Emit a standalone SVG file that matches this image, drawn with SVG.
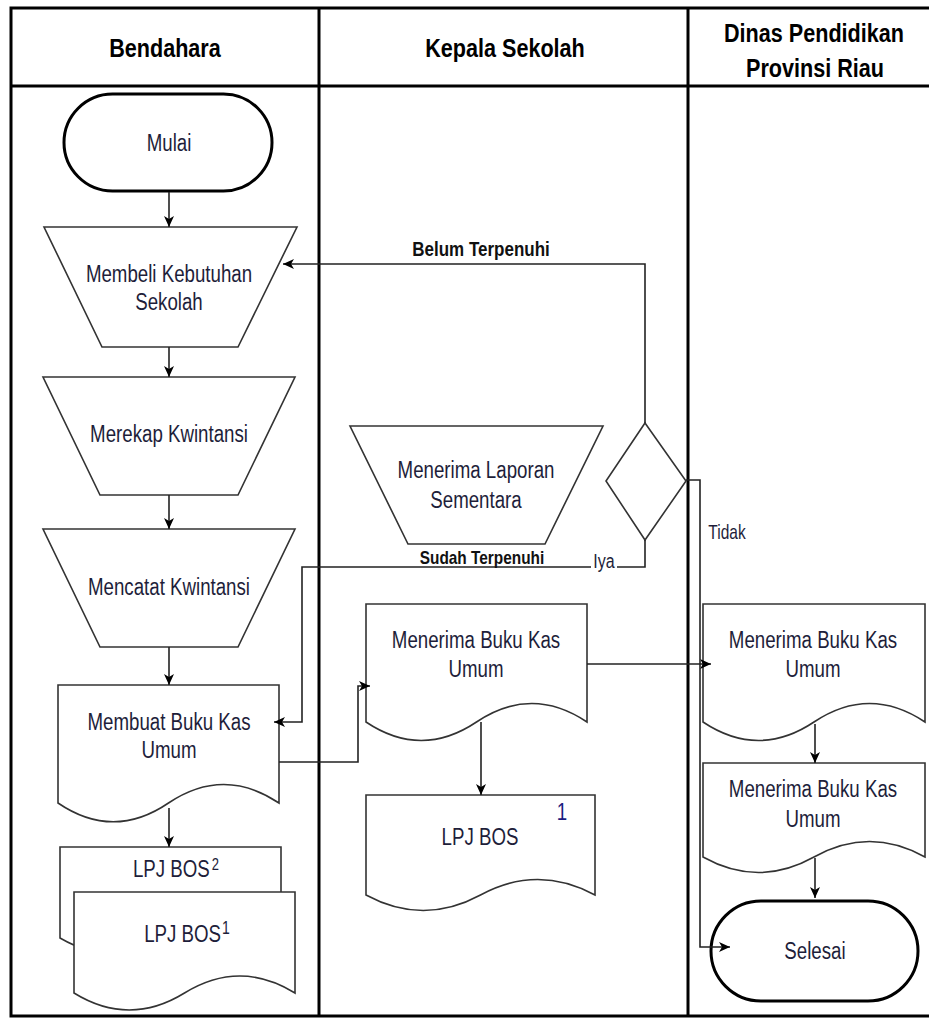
<svg xmlns="http://www.w3.org/2000/svg" width="929" height="1019" viewBox="0 0 929 1019">
<style>
.lane{stroke:#000;stroke-width:3;fill:none}
.sh{fill:#fff;stroke:#333;stroke-width:1.6}
.term{fill:#fff;stroke:#000;stroke-width:3}
.c{fill:none;stroke:#222;stroke-width:1.6}
.t{font-family:"Liberation Sans",Arial,sans-serif;font-size:18.7px;fill:#1e1e3a;text-anchor:middle}
.h{font-family:"Liberation Sans",Arial,sans-serif;font-size:21.6px;font-weight:bold;fill:#000;text-anchor:middle}
.lb{font-family:"Liberation Sans",Arial,sans-serif;font-weight:bold;fill:#111;text-anchor:middle}
</style>
<defs>
<marker id="arr" markerUnits="userSpaceOnUse" markerWidth="12" markerHeight="10" refX="11" refY="5" orient="auto">
<path d="M0,0 L11,5 L0,10 L3,5 z" fill="#000"/>
</marker>
</defs>
<rect width="929" height="1019" fill="#fff"/>
<g id="lanes">
<path class="lane" d="M929,8 H11 V1016 H929"/>
<path class="lane" d="M11,86 H929"/>
<path class="lane" d="M319,8 V1016"/>
<path class="lane" d="M688,8 V1016"/>
<text class="h" transform="translate(165,57) scale(1,1.2)">Bendahara</text>
<text class="h" transform="translate(505,57) scale(1,1.2)">Kepala Sekolah</text>
<text class="h" transform="translate(814,42) scale(1,1.2)">Dinas Pendidikan</text>
<text class="h" transform="translate(815,77) scale(1,1.2)">Provinsi Riau</text>
</g>
<g id="mulai">
<rect class="term" x="64" y="94" width="208" height="97" rx="48.5"/>
<text class="t" transform="translate(169,151) scale(1,1.27)">Mulai</text>
</g>
<g id="membeli">
<path class="sh" d="M44,227 H297 L238,347 H102 Z"/>
<text class="t" transform="translate(169,282) scale(1,1.27)">Membeli Kebutuhan</text>
<text class="t" transform="translate(169,310) scale(1,1.27)">Sekolah</text>
</g>
<g id="merekap">
<path class="sh" d="M43,377 H295 L238,495 H100 Z"/>
<text class="t" transform="translate(169,442) scale(1,1.27)">Merekap Kwintansi</text>
</g>
<g id="mencatat">
<path class="sh" d="M43,529 H295 L238,647 H100 Z"/>
<text class="t" transform="translate(169,595) scale(1,1.27)">Mencatat Kwintansi</text>
</g>
<g id="membuat">
<path class="sh" d="M58,685 H279 V803 Q223.75,766 168.5,803 Q113.25,840.6 58,803 Z"/>
<text class="t" transform="translate(169,730) scale(1,1.27)">Membuat Buku Kas</text>
<text class="t" transform="translate(169,758) scale(1,1.27)">Umum</text>
</g>
<g id="lpjbos2">
<path class="sh" d="M60,847 H281 V938 Q225.75,906 170.5,938 Q115.25,970 60,938 Z"/>
<text class="t" transform="translate(176,877) scale(1,1.27)">LPJ BOS<tspan style="font-size:13px" dx="2" dy="-5.5">2</tspan></text>
</g>
<g id="lpjbos1">
<path class="sh" d="M74,892 H295 V993 Q239.75,959 184.5,993 Q129.25,1027 74,993 Z"/>
<text class="t" transform="translate(187,942) scale(1,1.27)">LPJ BOS<tspan style="font-size:14px" dx="1" dy="-6">1</tspan></text>
</g>
<g id="menerima-laporan">
<path class="sh" d="M350,426 H603 L545,544 H408 Z"/>
<text class="t" transform="translate(476,478) scale(1,1.27)">Menerima Laporan</text>
<text class="t" transform="translate(476,508) scale(1,1.27)">Sementara</text>
</g>
<g id="keputusan">
<path class="sh" d="M645,423 L686,481 L645,540 L606,481 Z"/>
</g>
<g id="menerima-bku-kepala">
<path class="sh" d="M366,604 H587 V722 Q531.75,685 476.5,722 Q421.25,759 366,722 Z"/>
<text class="t" transform="translate(476,648) scale(1,1.27)">Menerima Buku Kas</text>
<text class="t" transform="translate(476,677) scale(1,1.27)">Umum</text>
</g>
<g id="lpjbos-kepala">
<path class="sh" d="M366,795 H595 V895 Q537.75,864 480.5,895 Q423.25,926 366,895 Z"/>
<text class="t" transform="translate(480,845) scale(1,1.27)">LPJ BOS</text>
<text class="t" style="fill:#1a1a80" transform="translate(562,820) scale(1,1.27)">1</text>
</g>
<g id="menerima-bku-dinas-1">
<path class="sh" d="M703,604 H925 V722 Q869.5,685 814,722 Q758.5,759 703,722 Z"/>
<text class="t" transform="translate(813,648) scale(1,1.27)">Menerima Buku Kas</text>
<text class="t" transform="translate(813,677) scale(1,1.27)">Umum</text>
</g>
<g id="menerima-bku-dinas-2">
<path class="sh" d="M703,763 H925 V857 Q869.5,826 814,857 Q758.5,888 703,857 Z"/>
<text class="t" transform="translate(813,797) scale(1,1.27)">Menerima Buku Kas</text>
<text class="t" transform="translate(813,827) scale(1,1.27)">Umum</text>
</g>
<g id="selesai">
<rect class="term" x="711" y="901" width="207" height="100" rx="50"/>
<text class="t" transform="translate(815,959) scale(1,1.27)">Selesai</text>
</g>
<g id="connectors">
<path class="c" marker-end="url(#arr)" d="M169,192 V227"/>
<path class="c" marker-end="url(#arr)" d="M169,347 V377"/>
<path class="c" marker-end="url(#arr)" d="M169,495 V529"/>
<path class="c" marker-end="url(#arr)" d="M169,647 V685"/>
<path class="c" marker-end="url(#arr)" d="M169,808 V847"/>
<path class="c" marker-end="url(#arr)" d="M279,762 H358 V686 H370"/>
<path class="c" marker-end="url(#arr)" d="M481,722 V795"/>
<path class="c" marker-end="url(#arr)" d="M587,664 H711"/>
<path class="c" marker-end="url(#arr)" d="M815,724 V763"/>
<path class="c" marker-end="url(#arr)" d="M815,858 V898"/>
<path class="c" marker-end="url(#arr)" d="M645,423 V264 H283"/>
<path class="c" marker-end="url(#arr)" d="M645,540 V567 H302 V722 H274"/>
<path class="c" marker-end="url(#arr)" d="M686,480 H700 V947 H730"/>
<text class="lb" font-size="17px" transform="translate(481,256) scale(1,1.2)">Belum Terpenuhi</text>
<text class="lb" font-size="15.4px" transform="translate(482,564) scale(1,1.2)">Sudah Terpenuhi</text>
<rect x="591" y="556" width="26" height="16" fill="#fff"/>
<text class="t" style="font-size:16px" transform="translate(604,568) scale(1,1.27)">Iya</text>
<text class="t" style="font-size:15.5px" transform="translate(727,539) scale(1,1.27)">Tidak</text>
</g>
</svg>
